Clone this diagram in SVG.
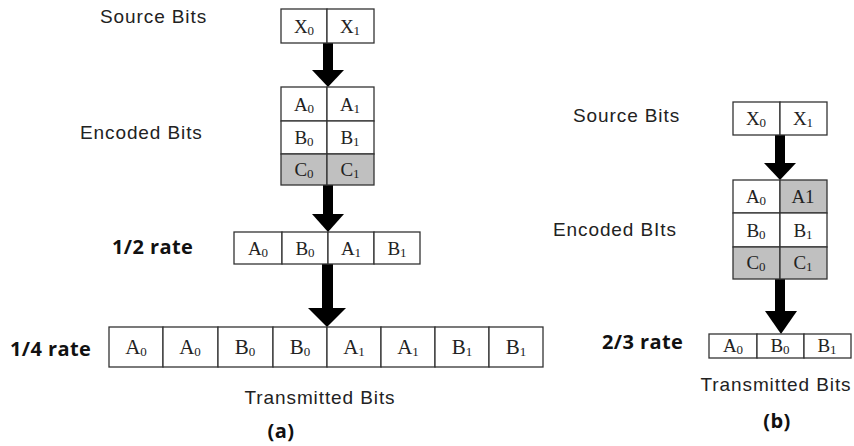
<svg xmlns="http://www.w3.org/2000/svg" width="854" height="446" viewBox="0 0 854 446">
<style>
.c{fill:#fff;stroke:#333;stroke-width:1.3}
.g{fill:#c0c0c0;stroke:#333;stroke-width:1.3}
.t{font-family:"Liberation Serif",serif;font-size:19px;fill:#222;text-anchor:middle}
.tb{font-family:"Liberation Serif",serif;font-size:21px;fill:#222;text-anchor:middle}
.s{font-size:13px}
.l{font-family:"Liberation Sans",Arial,sans-serif;font-size:19px;letter-spacing:0.9px;fill:#222}
.b{font-family:"Open Sans","Liberation Sans",sans-serif;font-weight:bold;font-size:20px;letter-spacing:0.4px;fill:#111}
.ar{fill:#000}
</style>
<rect width="854" height="446" fill="#fff"/>
<g id="labels">
<text class="l" x="100" y="23">Source Bits</text>
<text class="l" x="80" y="139">Encoded Bits</text>
<text class="b" x="112" y="254">1/2 rate</text>
<text class="b" x="10" y="356">1/4 rate</text>
<text class="l" x="320" y="404" text-anchor="middle">Transmitted Bits</text>
<text class="b" x="281" y="438" text-anchor="middle">(a)</text>
<text class="l" x="573" y="122">Source Bits</text>
<text class="l" x="553" y="236">Encoded BIts</text>
<text class="b" x="602" y="349">2/3 rate</text>
<text class="l" x="776" y="391" text-anchor="middle">Transmitted Bits</text>
<text class="b" x="777" y="428" text-anchor="middle">(b)</text>
</g>
<g id="connectors">
<rect class="ar" x="323" y="43" width="10" height="28"/>
<polygon class="ar" points="312,70 344,70 328,87"/>
<rect class="ar" x="323" y="185" width="10" height="30"/>
<polygon class="ar" points="312,214 344,214 328,232"/>
<rect class="ar" x="322" y="264" width="11" height="45"/>
<polygon class="ar" points="308,308 346,308 327,327"/>
<rect class="ar" x="775" y="135" width="10" height="29"/>
<polygon class="ar" points="764,163 796,163 780,180"/>
<rect class="ar" x="775" y="279" width="10" height="33"/>
<polygon class="ar" points="765,311 797,311 781,334"/>
</g>
<g id="a-source">
<rect class="c" x="281" y="9" width="46" height="34"/><rect class="c" x="327" y="9" width="47" height="34"/>
<text class="t" x="304" y="33">X<tspan class="s" dy="2">0</tspan></text>
<text class="t" x="350" y="33">X<tspan class="s" dy="2">1</tspan></text>
</g>
<g id="a-encoded">
<rect class="c" x="281" y="87" width="46" height="34"/><rect class="c" x="327" y="87" width="47" height="34"/>
<rect class="c" x="281" y="121" width="46" height="33"/><rect class="c" x="327" y="121" width="47" height="33"/>
<rect class="g" x="281" y="154" width="46" height="31"/><rect class="g" x="327" y="154" width="47" height="31"/>
<text class="t" x="304" y="111">A<tspan class="s" dy="2">0</tspan></text>
<text class="t" x="350" y="111">A<tspan class="s" dy="2">1</tspan></text>
<text class="t" x="304" y="144">B<tspan class="s" dy="2">0</tspan></text>
<text class="t" x="350" y="144">B<tspan class="s" dy="2">1</tspan></text>
<text class="t" x="304" y="176">C<tspan class="s" dy="2">0</tspan></text>
<text class="t" x="350" y="176">C<tspan class="s" dy="2">1</tspan></text>
</g>
<g id="a-half">
<rect class="c" x="234" y="232" width="48" height="32"/><rect class="c" x="282" y="232" width="46" height="32"/>
<rect class="c" x="328" y="232" width="46" height="32"/><rect class="c" x="374" y="232" width="46" height="32"/>
<text class="t" x="258" y="255">A<tspan class="s" dy="2">0</tspan></text>
<text class="t" x="305" y="255">B<tspan class="s" dy="2">0</tspan></text>
<text class="t" x="351" y="255">A<tspan class="s" dy="2">1</tspan></text>
<text class="t" x="397" y="255">B<tspan class="s" dy="2">1</tspan></text>
</g>
<g id="a-quarter">
<rect class="c" x="109" y="327" width="54" height="40"/><rect class="c" x="163" y="327" width="55" height="40"/>
<rect class="c" x="218" y="327" width="55" height="40"/><rect class="c" x="273" y="327" width="54" height="40"/>
<rect class="c" x="327" y="327" width="54" height="40"/><rect class="c" x="381" y="327" width="54" height="40"/>
<rect class="c" x="435" y="327" width="54" height="40"/><rect class="c" x="489" y="327" width="54" height="40"/>
<text class="tb" x="136" y="354">A<tspan class="s" font-size="14" dy="2">0</tspan></text>
<text class="tb" x="190" y="354">A<tspan class="s" font-size="14" dy="2">0</tspan></text>
<text class="tb" x="245" y="354">B<tspan class="s" font-size="14" dy="2">0</tspan></text>
<text class="tb" x="300" y="354">B<tspan class="s" font-size="14" dy="2">0</tspan></text>
<text class="tb" x="354" y="354">A<tspan class="s" font-size="14" dy="2">1</tspan></text>
<text class="tb" x="408" y="354">A<tspan class="s" font-size="14" dy="2">1</tspan></text>
<text class="tb" x="462" y="354">B<tspan class="s" font-size="14" dy="2">1</tspan></text>
<text class="tb" x="516" y="354">B<tspan class="s" font-size="14" dy="2">1</tspan></text>
</g>
<g id="b-source">
<rect class="c" x="733" y="102" width="47" height="33"/><rect class="c" x="780" y="102" width="47" height="33"/>
<text class="t" x="756" y="125">X<tspan class="s" dy="2">0</tspan></text>
<text class="t" x="803" y="125">X<tspan class="s" dy="2">1</tspan></text>
</g>
<g id="b-encoded">
<rect class="c" x="733" y="180" width="47" height="33"/><rect class="g" x="780" y="180" width="47" height="33"/>
<rect class="c" x="733" y="213" width="47" height="34"/><rect class="c" x="780" y="213" width="47" height="34"/>
<rect class="g" x="733" y="247" width="47" height="32"/><rect class="g" x="780" y="247" width="47" height="32"/>
<text class="t" x="756" y="203">A<tspan class="s" dy="2">0</tspan></text>
<text class="t" x="803" y="203">A1</text>
<text class="t" x="756" y="237">B<tspan class="s" dy="2">0</tspan></text>
<text class="t" x="803" y="237">B<tspan class="s" dy="2">1</tspan></text>
<text class="t" x="756" y="269">C<tspan class="s" dy="2">0</tspan></text>
<text class="t" x="803" y="269">C<tspan class="s" dy="2">1</tspan></text>
</g>
<g id="b-rate">
<rect class="c" x="709" y="334" width="48" height="24"/><rect class="c" x="757" y="334" width="47" height="24"/>
<rect class="c" x="804" y="334" width="47" height="24"/>
<text class="t" x="733" y="352">A<tspan class="s" dy="2">0</tspan></text>
<text class="t" x="780" y="352">B<tspan class="s" dy="2">0</tspan></text>
<text class="t" x="827" y="352">B<tspan class="s" dy="2">1</tspan></text>
</g>
</svg>
